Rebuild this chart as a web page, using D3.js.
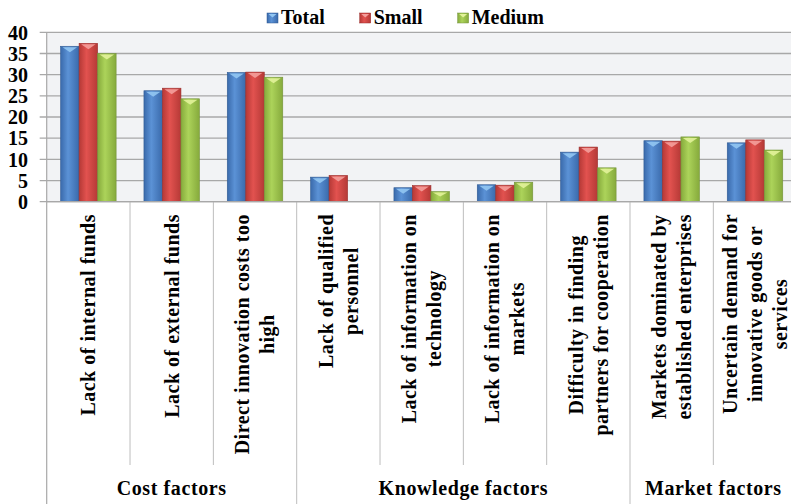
<!DOCTYPE html>
<html>
<head>
<meta charset="utf-8">
<script src="https://cdn.jsdelivr.net/npm/d3@7"></script>
<style>
body { margin: 0; background: #fff; }
svg { display: block; font-family: "Liberation Serif", "Times New Roman", serif; font-weight: bold; }
</style>
</head>
<body>
<svg id="chart"></svg>
<script>
'use strict';

// data
var categoryLabels = [
    ['Lack of internal funds'],
    ['Lack of external funds'],
    ['Direct innovation costs too', 'high'],
    ['Lack of qualified', 'personnel'],
    ['Lack of information on', 'technology'],
    ['Lack of information on', 'markets'],
    ['Difficulty in finding', 'partners for cooperation'],
    ['Markets dominated by', 'established enterprises'],
    ['Uncertain demand for', 'innovative goods or', 'services']
];
var groupNames = ['Cost factors', 'Knowledge factors', 'Market factors'];
var groupSizes = [3, 4, 2];
var seriesNames = ['Total', 'Small', 'Medium'];
var totalValues = [36.7, 26.2, 30.5, 5.8, 3.3, 4.0, 11.7, 14.4, 13.9];
var smallValues = [37.4, 26.8, 30.6, 6.2, 3.8, 3.9, 12.9, 14.3, 14.6];
var mediumValues = [35.0, 24.3, 29.4, 0, 2.4, 4.6, 8.0, 15.3, 12.2];
var yTicks = [0, 5, 10, 15, 20, 25, 30, 35, 40];

var SVG_SIZE = { width: 791, height: 504 };
var PLOT = { left: 46.7, top: 32.3, bottom: 201.7, catWidth: 83.33 };

var colors = {
    Total: { edge: '#3a6aab', mid: '#5b92d6', cap: '#92c6f2', line: '#2f5a93' },
    Small: { edge: '#b53936', mid: '#e2524f', cap: '#f49e9b', line: '#9a2e2c' },
    Medium: { edge: '#86aa3c', mid: '#acd35a', cap: '#e2f29a', line: '#74933a' }
};

var svg = d3.select('#chart')
    .attr('width', SVG_SIZE.width).attr('height', SVG_SIZE.height);

var data = categoryLabels.map(function (lines, i) {
    return { i: i, lines: lines, values: [totalValues[i], smallValues[i], mediumValues[i]] };
});

var x0 = d3.scaleBand()
    .domain(d3.range(categoryLabels.length))
    .range([PLOT.left, PLOT.left + PLOT.catWidth * categoryLabels.length]);
var groupW = 55.5;
var x1 = d3.scaleBand()
    .domain(seriesNames)
    .range([(x0.bandwidth() - groupW) / 2, (x0.bandwidth() + groupW) / 2]);
var y = d3.scaleLinear().domain([0, 40]).range([PLOT.bottom, PLOT.top]);

// gradients
var defs = svg.append('defs');
seriesNames.forEach(function (s) {
    var g = defs.append('linearGradient').attr('id', 'grad-' + s)
        .attr('x1', 0).attr('x2', 1).attr('y1', 0).attr('y2', 0);
    g.append('stop').attr('offset', '0%').attr('stop-color', colors[s].edge);
    g.append('stop').attr('offset', '40%').attr('stop-color', colors[s].mid);
    g.append('stop').attr('offset', '100%').attr('stop-color', colors[s].edge);
});

// plot background
svg.append('rect')
    .attr('x', PLOT.left).attr('y', y(40))
    .attr('width', SVG_SIZE.width - PLOT.left).attr('height', y(0) - y(40))
    .attr('fill', '#f2f3f5');

// gridlines
svg.append('g').selectAll('line').data(yTicks).enter().append('line')
    .attr('x1', PLOT.left - 7).attr('x2', SVG_SIZE.width)
    .attr('y1', function (d) { return y(d); }).attr('y2', function (d) { return y(d); })
    .attr('stroke', '#a8a8a8').attr('stroke-width', 1.3);

// y axis line
svg.append('line')
    .attr('x1', PLOT.left).attr('x2', PLOT.left)
    .attr('y1', y(40)).attr('y2', SVG_SIZE.height)
    .attr('stroke', '#a8a8a8').attr('stroke-width', 1.2);

// y tick labels
svg.append('g').selectAll('text').data(yTicks).enter().append('text')
    .attr('x', 28).attr('y', function (d) { return y(d); })
    .attr('dy', '0.36em')
    .attr('text-anchor', 'end')
    .style('font-size', '20px')
    .text(function (d) { return d; });

// category dividers (short) and group dividers (long)
var groupStarts = [];
var acc = 0;
groupSizes.forEach(function (n) { groupStarts.push(acc); acc += n; });
var dividers = d3.range(1, categoryLabels.length + 1);
svg.append('g').selectAll('line').data(dividers).enter().append('line')
    .attr('x1', function (d) { return x0(0) + d * x0.bandwidth(); })
    .attr('x2', function (d) { return x0(0) + d * x0.bandwidth(); })
    .attr('y1', y(0))
    .attr('y2', function (d) { return groupStarts.indexOf(d) >= 0 ? SVG_SIZE.height : 465; })
    .attr('stroke', '#bdbdbd').attr('stroke-width', 1);

// bars
var catG = svg.append('g').selectAll('g').data(data).enter().append('g')
    .attr('transform', function (d) { return 'translate(' + x0(d.i) + ',0)'; });

var bars = catG.selectAll('g').data(function (d) {
    return d.values.map(function (v, k) { return { s: seriesNames[k], v: v }; });
}).enter().append('g').filter(function (d) { return d.v > 0; });

bars.append('rect')
    .attr('x', function (d) { return x1(d.s); })
    .attr('y', function (d) { return y(d.v); })
    .attr('width', x1.bandwidth())
    .attr('height', function (d) { return y(0) - y(d.v); })
    .attr('fill', function (d) { return 'url(#grad-' + d.s + ')'; })
    .attr('stroke', function (d) { return colors[d.s].line; })
    .attr('stroke-width', 0.6);

bars.append('polygon')
    .attr('points', function (d) {
        var bx = x1(d.s), by = y(d.v), w = x1.bandwidth();
        var dep = Math.min(6, (y(0) - y(d.v)) / 2);
        return [[bx + 2, by + 1], [bx + w - 2, by + 1], [bx + w / 2, by + dep]].join(' ');
    })
    .attr('fill', function (d) { return colors[d.s].cap; })
    .attr('opacity', 0.9);

// x axis line
svg.append('line')
    .attr('x1', PLOT.left).attr('x2', SVG_SIZE.width)
    .attr('y1', y(0)).attr('y2', y(0))
    .attr('stroke', '#a8a8a8').attr('stroke-width', 1.3);

// category labels, rotated
var LINE_H = 25;
var labelTop = 214;
catG.each(function (d) {
    var cx = x0.bandwidth() / 2;
    var t = d3.select(this).append('text')
        .attr('text-anchor', 'middle')
        .style('font-size', '20px')
        .style('letter-spacing', '0.5px');
    var n = d.lines.length;
    d.lines.forEach(function (line, k) {
        t.append('tspan')
            .attr('x', 0)
            .attr('y', (k - (n - 1) / 2) * LINE_H)
            .attr('dy', '0.34em')
            .text(line);
    });
    var maxLen = d3.max(t.selectAll('tspan').nodes(), function (nd) { return nd.getComputedTextLength(); });
    t.attr('transform', 'translate(' + cx + ',' + (labelTop + maxLen / 2) + ') rotate(-90)');
});

// group labels
svg.append('g').selectAll('text').data(groupNames).enter().append('text')
    .attr('x', function (d, i) {
        var a = x0(groupStarts[i]);
        var b = a + groupSizes[i] * x0.bandwidth();
        return (a + b) / 2;
    })
    .attr('y', 495)
    .attr('text-anchor', 'middle')
    .style('font-size', '20px')
    .style('letter-spacing', '0.6px')
    .text(function (d) { return d; });

// legend
var legend = svg.append('g');
var lx = 267;
seriesNames.forEach(function (s) {
    var item = legend.append('g').attr('transform', 'translate(' + lx + ',0)');
    item.append('rect')
        .attr('x', 0).attr('y', 13).attr('width', 11).attr('height', 10)
        .attr('fill', 'url(#grad-' + s + ')')
        .attr('stroke', colors[s].line).attr('stroke-width', 0.5);
    item.append('polygon')
        .attr('points', '1.5,14 9.5,14 5.5,17.5')
        .attr('fill', colors[s].cap);
    var txt = item.append('text')
        .attr('x', 14).attr('y', 24)
        .style('font-size', '20px')
        .text(s);
    lx += 14 + txt.node().getComputedTextLength() + 35;
});
</script>
</body>
</html>
